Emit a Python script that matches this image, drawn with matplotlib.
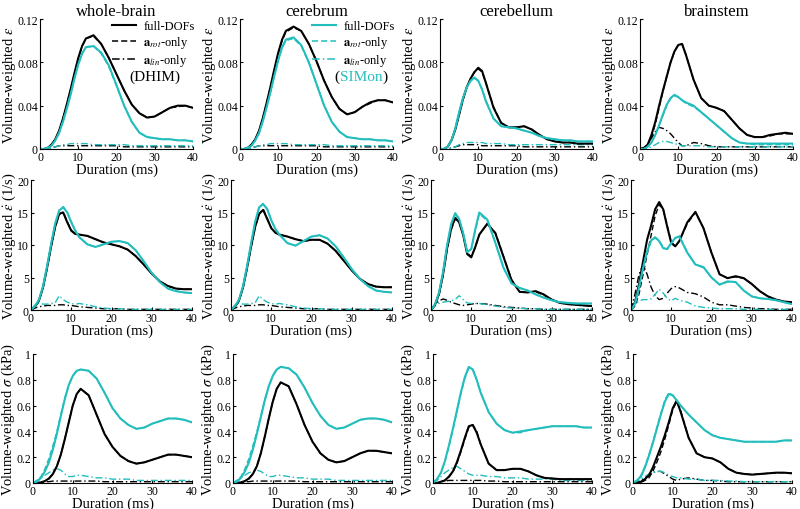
import matplotlib.pyplot as plt
from matplotlib.lines import Line2D
from matplotlib.offsetbox import TextArea, HPacker, AnchoredOffsetbox

plt.rcParams['font.family'] = ['Liberation Serif', 'DejaVu Serif']
plt.rcParams['mathtext.fontset'] = 'stix'

CYAN = '#22bdbd'

# sample times (ms): 1 ms steps up to 12 ms, 2 ms steps after
t = [0, 1, 2, 3, 4, 5, 6, 7, 8, 9, 10, 11, 12,
     14, 16, 18, 20, 22, 24, 26, 28, 30, 32, 34, 36, 38, 40]

regions = ['whole-brain', 'cerebrum', 'cerebellum', 'brainstem']

# ---- volume-weighted strain  (D = DHIM, S = SIMon)
wb_eps_D_full = [0, 0, .001, .004, .009, .017, .028, .041, .055, .070, .084, .095, .102, .105, .097, .084, .069, .054, .041, .033, .029, .030, .034, .038, .040, .040, .038]
wb_eps_D_rot = [0, 0, .001, .004, .009, .016, .028, .041, .055, .069, .083, .095, .102, .104, .097, .084, .069, .054, .041, .033, .029, .030, .034, .038, .039, .040, .038]
wb_eps_D_lin = [0, 0, 0, .001, .002, .003, .003, .003, .003, .003, .003, .003, .003, .003, .003, .003, .003, .002, .002, .002, .002, .002, .002, .002, .002, .002, .002]
wb_eps_S_full = [0, 0, .001, .003, .008, .015, .025, .037, .050, .065, .078, .088, .094, .095, .089, .077, .059, .040, .025, .015, .011, .010, .009, .009, .008, .008, .007]
wb_eps_S_rot = [0, 0, .001, .003, .008, .015, .026, .038, .051, .065, .078, .088, .094, .095, .088, .076, .058, .040, .025, .015, .011, .010, .009, .009, .008, .008, .007]
wb_eps_S_lin = [0, 0, 0, .001, .002, .003, .004, .004, .005, .005, .005, .005, .005, .004, .004, .004, .004, .004, .003, .003, .003, .003, .003, .003, .003, .003, .003]

cr_eps_D_full = [0, 0, .001, .004, .009, .017, .029, .043, .058, .074, .089, .101, .109, .113, .109, .097, .081, .063, .048, .037, .032, .034, .039, .043, .045, .045, .043]
cr_eps_D_rot = [0, 0, .001, .004, .009, .017, .029, .043, .058, .073, .088, .100, .108, .112, .109, .097, .081, .063, .048, .037, .032, .034, .039, .042, .045, .045, .043]
cr_eps_D_lin = [0, 0, 0, .001, .002, .003, .003, .003, .003, .003, .003, .003, .003, .003, .003, .003, .003, .002, .002, .002, .002, .002, .002, .002, .002, .002, .002]
cr_eps_S_full = [0, 0, .001, .003, .008, .015, .026, .039, .053, .068, .082, .094, .101, .103, .096, .080, .060, .040, .025, .016, .011, .010, .009, .009, .008, .008, .007]
cr_eps_S_rot = [0, 0, .001, .003, .008, .015, .026, .039, .053, .068, .082, .093, .100, .102, .095, .080, .060, .040, .025, .016, .011, .010, .009, .009, .008, .008, .007]
cr_eps_S_lin = [0, 0, 0, .001, .002, .003, .004, .004, .005, .005, .005, .005, .005, .004, .004, .004, .004, .004, .003, .003, .003, .003, .003, .003, .003, .003, .003]

cb_eps_D_full = [0, 0, .002, .008, .018, .032, .046, .057, .065, .071, .075, .072, .061, .038, .024, .020, .020, .021, .018, .013, .009, .007, .006, .006, .005, .005, .005]
cb_eps_D_rot = [0, 0, .002, .008, .018, .031, .045, .057, .065, .071, .074, .071, .061, .039, .024, .020, .020, .021, .018, .013, .009, .007, .006, .006, .005, .005, .005]
cb_eps_D_lin = [0, 0, 0, .001, .002, .003, .004, .004, .004, .004, .004, .003, .003, .003, .003, .003, .003, .002, .002, .002, .002, .002, .002, .002, .002, .002, .002]
cb_eps_S_full = [0, 0, .002, .008, .019, .034, .047, .057, .063, .066, .063, .055, .044, .028, .021, .020, .019, .017, .015, .012, .010, .009, .008, .008, .007, .007, .007]
cb_eps_S_rot = [0, 0, .002, .008, .019, .033, .047, .057, .063, .065, .063, .055, .045, .028, .021, .020, .019, .017, .015, .012, .010, .009, .008, .008, .007, .007, .007]
cb_eps_S_lin = [0, 0, 0, .001, .002, .004, .005, .006, .006, .006, .006, .006, .005, .005, .005, .004, .004, .004, .004, .004, .004, .004, .004, .004, .004, .004, .004]

bs_eps_D_full = [0, .001, .004, .013, .025, .040, .054, .067, .080, .090, .096, .097, .087, .064, .047, .040, .038, .035, .027, .019, .013, .011, .011, .013, .014, .015, .014]
bs_eps_D_rot = [0, .001, .003, .011, .023, .038, .053, .067, .080, .090, .096, .097, .087, .064, .047, .040, .038, .035, .027, .019, .013, .011, .011, .012, .014, .014, .014]
bs_eps_D_lin = [0, .001, .004, .010, .016, .020, .019, .017, .014, .010, .006, .003, .003, .006, .005, .003, .002, .002, .002, .002, .002, .002, .002, .002, .002, .002, .002]
bs_eps_S_full = [0, 0, .002, .006, .013, .022, .032, .041, .047, .050, .048, .045, .043, .040, .034, .028, .022, .016, .010, .006, .005, .005, .005, .005, .005, .005, .005]
bs_eps_S_rot = [0, 0, .002, .006, .013, .022, .031, .040, .047, .049, .048, .045, .042, .039, .034, .028, .022, .016, .010, .006, .005, .004, .004, .004, .004, .004, .004]
bs_eps_S_lin = [0, 0, .001, .002, .004, .006, .007, .007, .006, .005, .004, .003, .003, .003, .003, .002, .002, .002, .002, .002, .002, .002, .002, .002, .002, .002, .002]

# ---- volume-weighted strain rate (1/s)
wb_rate_D_full = [0, .5, 1.5, 3.5, 6.5, 9.8, 12.8, 14.8, 15.0, 13.5, 12.2, 11.7, 11.6, 11.4, 10.9, 10.4, 10.1, 9.8, 9.3, 8.3, 7.0, 5.6, 4.4, 3.7, 3.3, 3.2, 3.2]
wb_rate_D_rot = [0, .5, 1.4, 3.4, 6.4, 9.7, 12.7, 14.7, 15.1, 13.6, 12.3, 11.7, 11.6, 11.4, 10.9, 10.4, 10.1, 9.8, 9.3, 8.3, 7.0, 5.6, 4.4, 3.7, 3.3, 3.2, 3.2]
wb_rate_D_lin = [0, .3, .5, .6, .7, .7, .7, .8, .8, .7, .7, .6, .5, .4, .3, .2, .2, .2, .1, .1, .1, .1, .1, .1, .1, .1, .1]
wb_rate_S_full = [0, .6, 1.6, 3.7, 6.8, 10.2, 13.3, 15.3, 15.8, 15.0, 13.5, 12.2, 11.2, 10.1, 9.7, 10.1, 10.5, 10.6, 10.3, 9.2, 7.5, 5.7, 4.3, 3.3, 2.9, 2.7, 2.6]
wb_rate_S_rot = [0, .6, 1.6, 3.6, 6.7, 10.1, 13.2, 15.3, 15.9, 15.1, 13.6, 12.2, 11.2, 10.1, 9.7, 10.1, 10.5, 10.6, 10.3, 9.2, 7.5, 5.7, 4.3, 3.3, 2.9, 2.7, 2.6]
wb_rate_S_lin = [0, .8, 1.1, .9, .9, 1.0, 1.1, 2.2, 1.6, 1.2, 1.0, .9, 1.0, .8, .5, .3, .2, .2, .1, .1, .1, .1, .1, .1, .1, .1, .1]

cr_rate_D_full = [0, .5, 1.5, 3.5, 6.5, 9.8, 12.8, 14.8, 15.4, 14.0, 12.6, 11.9, 11.6, 11.3, 10.9, 10.6, 10.8, 10.8, 10.2, 9.1, 7.6, 6.1, 4.8, 4.0, 3.6, 3.5, 3.5]
cr_rate_D_rot = [0, .5, 1.4, 3.4, 6.4, 9.7, 12.7, 14.8, 15.5, 14.1, 12.6, 11.9, 11.6, 11.3, 10.9, 10.6, 10.8, 10.8, 10.2, 9.1, 7.6, 6.1, 4.8, 4.0, 3.6, 3.5, 3.5]
cr_rate_D_lin = [0, .3, .5, .6, .7, .7, .7, .8, .8, .7, .7, .6, .5, .4, .3, .2, .2, .2, .1, .1, .1, .1, .1, .1, .1, .1, .1]
cr_rate_S_full = [0, .6, 1.6, 3.7, 6.8, 10.3, 13.6, 15.8, 16.3, 15.5, 13.8, 12.5, 11.6, 10.3, 9.9, 10.6, 11.3, 11.5, 11.0, 9.8, 8.1, 6.3, 4.8, 3.7, 3.0, 2.8, 2.7]
cr_rate_S_rot = [0, .6, 1.6, 3.6, 6.7, 10.2, 13.5, 15.8, 16.4, 15.6, 13.9, 12.5, 11.6, 10.3, 9.9, 10.6, 11.3, 11.5, 11.0, 9.8, 8.1, 6.3, 4.8, 3.7, 3.0, 2.8, 2.7]
cr_rate_S_lin = [0, .8, 1.1, .9, .9, 1.0, 1.1, 2.2, 1.6, 1.2, 1.0, .9, 1.0, .8, .5, .3, .2, .2, .1, .1, .1, .1, .1, .1, .1, .1, .1]

cb_rate_D_full = [0, .8, 2.5, 5.5, 9.5, 12.5, 14.2, 13.5, 11.5, 8.6, 8.1, 9.7, 11.6, 13.3, 11.8, 8.2, 4.6, 2.8, 2.7, 2.9, 2.4, 1.6, 1.1, .9, .8, .7, .6]
cb_rate_D_rot = [0, .7, 2.3, 5.3, 9.3, 12.3, 14.0, 13.5, 11.6, 8.8, 8.2, 9.6, 11.6, 13.2, 11.9, 8.3, 4.7, 2.8, 2.7, 2.8, 2.3, 1.6, 1.1, .9, .8, .7, .6]
cb_rate_D_lin = [0, .8, 1.4, 1.7, 1.5, 1.2, 1.0, .8, .7, .8, .9, 1.0, 1.0, .9, .7, .5, .4, .3, .2, .2, .1, .1, .1, .1, .1, .1, .1]
cb_rate_S_full = [0, .9, 2.7, 5.9, 10.0, 13.2, 14.9, 14.0, 11.8, 8.9, 9.4, 12.4, 15.0, 13.9, 10.3, 6.5, 4.1, 3.4, 3.0, 2.4, 1.9, 1.5, 1.2, 1.1, 1.0, 1.0, 1.0]
cb_rate_S_rot = [0, .8, 2.6, 5.8, 9.9, 13.1, 14.8, 14.0, 11.9, 9.0, 9.3, 12.2, 14.8, 13.7, 10.4, 6.6, 4.1, 3.4, 3.0, 2.4, 1.9, 1.5, 1.2, 1.1, 1.0, 1.0, 1.0]
cb_rate_S_lin = [0, .6, 1.0, 1.2, 1.3, 1.4, 1.6, 2.2, 1.6, 1.1, 1.0, 1.0, 1.0, .8, .6, .4, .3, .3, .2, .2, .1, .1, .1, .1, .1, .1, .1]

bs_rate_D_full = [0, 1.2, 4.0, 7.5, 10.8, 13.0, 15.5, 16.6, 15.5, 12.8, 10.3, 9.8, 10.6, 13.5, 15.1, 12.6, 8.8, 5.5, 4.9, 5.2, 4.9, 4.0, 2.9, 2.1, 1.6, 1.3, 1.2]
bs_rate_D_rot = [0, .6, 2.5, 5.5, 8.5, 11.5, 14.5, 16.2, 15.5, 13.0, 10.5, 9.8, 10.6, 13.3, 15.0, 12.6, 8.8, 5.5, 4.9, 5.1, 4.9, 4.0, 2.9, 2.1, 1.6, 1.3, 1.2]
bs_rate_D_lin = [0, 2.5, 5.5, 7.0, 5.5, 3.5, 2.2, 1.6, 1.8, 2.6, 3.3, 3.6, 3.4, 2.7, 2.5, 2.0, 1.2, .8, .8, .6, .4, .3, .2, .2, .1, .1, .1]
bs_rate_S_full = [0, 1.0, 3.5, 6.5, 9.0, 10.7, 11.2, 10.6, 9.5, 9.4, 10.3, 11.1, 11.3, 8.8, 7.0, 6.6, 5.0, 3.9, 4.4, 4.3, 3.0, 2.1, 1.8, 1.7, 1.5, 1.2, .9]
bs_rate_S_rot = [0, .8, 3.2, 6.3, 8.9, 10.6, 11.1, 10.7, 9.6, 9.3, 10.2, 11.0, 11.4, 8.9, 7.0, 6.5, 5.0, 3.9, 4.3, 4.3, 3.0, 2.1, 1.8, 1.7, 1.5, 1.2, .9]
bs_rate_S_lin = [0, .8, 1.4, 1.6, 1.6, 1.7, 2.4, 3.2, 2.6, 1.8, 1.4, 1.8, 1.5, 1.2, .6, .4, .3, .2, .2, .2, .1, .1, .1, .1, .1, .1, .1]

# ---- volume-weighted stress (kPa)
wb_sig_D_full = [0, 0, .005, .015, .035, .07, .13, .22, .34, .47, .60, .69, .73, .68, .53, .38, .28, .21, .17, .15, .16, .18, .20, .22, .22, .21, .20]
wb_sig_D_rot = [0, 0, .005, .014, .033, .068, .13, .22, .34, .47, .60, .69, .73, .68, .53, .38, .28, .21, .17, .15, .16, .18, .20, .22, .22, .21, .20]
wb_sig_D_lin = [0, 0, .005, .01, .01, .015, .015, .015, .015, .015, .015, .015, .015, .015, .015, .01, .01, .01, .01, .01, .01, .01, .01, .01, .01, .01, .01]
wb_sig_S_full = [0, .01, .04, .09, .16, .26, .38, .52, .65, .76, .83, .87, .88, .87, .81, .70, .58, .50, .45, .42, .43, .46, .48, .50, .50, .49, .47]
wb_sig_S_rot = [0, .02, .05, .11, .19, .29, .40, .53, .66, .76, .83, .87, .88, .87, .81, .70, .58, .50, .45, .42, .43, .46, .48, .50, .50, .49, .47]
wb_sig_S_lin = [0, .02, .04, .06, .08, .10, .11, .10, .07, .05, .05, .06, .06, .05, .04, .04, .03, .03, .03, .02, .02, .02, .02, .02, .02, .02, .02]

cr_sig_D_full = [0, 0, .005, .015, .035, .07, .13, .23, .36, .50, .63, .73, .78, .75, .61, .45, .32, .23, .18, .16, .17, .20, .23, .25, .25, .24, .23]
cr_sig_D_rot = [0, 0, .005, .014, .033, .068, .13, .23, .36, .50, .63, .73, .78, .75, .61, .45, .32, .23, .18, .16, .17, .20, .23, .25, .25, .24, .23]
cr_sig_D_lin = [0, 0, .005, .01, .01, .015, .015, .015, .015, .015, .015, .015, .015, .015, .015, .01, .01, .01, .01, .01, .01, .01, .01, .01, .01, .01, .01]
cr_sig_S_full = [0, .01, .04, .09, .16, .26, .38, .51, .64, .75, .83, .88, .90, .89, .84, .74, .62, .52, .45, .42, .43, .46, .49, .50, .50, .49, .47]
cr_sig_S_rot = [0, .02, .05, .11, .19, .29, .40, .52, .65, .75, .83, .88, .90, .89, .84, .74, .62, .52, .45, .42, .43, .46, .49, .50, .50, .49, .47]
cr_sig_S_lin = [0, .02, .04, .06, .08, .09, .10, .09, .07, .05, .05, .06, .06, .05, .04, .04, .03, .03, .03, .02, .02, .02, .02, .02, .02, .02, .02]

cb_sig_D_full = [0, 0, .01, .02, .05, .09, .16, .25, .35, .44, .45, .39, .30, .15, .10, .10, .11, .11, .09, .06, .04, .035, .03, .03, .03, .03, .03]
cb_sig_D_rot = [0, 0, .01, .02, .045, .085, .15, .24, .34, .43, .45, .40, .30, .15, .10, .10, .11, .11, .09, .06, .04, .035, .03, .03, .03, .03, .03]
cb_sig_D_lin = [0, 0, .01, .015, .02, .02, .02, .02, .02, .02, .02, .02, .02, .015, .015, .01, .01, .01, .01, .01, .01, .01, .01, .01, .01, .01, .01]
cb_sig_S_full = [0, .03, .08, .17, .29, .42, .56, .70, .82, .90, .88, .80, .70, .55, .46, .41, .39, .40, .41, .42, .43, .44, .44, .44, .44, .43, .43]
cb_sig_S_rot = [0, .03, .08, .17, .28, .41, .55, .69, .81, .89, .88, .80, .70, .55, .46, .41, .39, .39, .41, .42, .43, .44, .44, .44, .44, .43, .43]
cb_sig_S_lin = [0, .02, .05, .08, .10, .12, .13, .11, .09, .07, .06, .06, .06, .05, .05, .04, .04, .04, .03, .03, .03, .03, .02, .02, .02, .02, .02]

bs_sig_D_full = [0, 0, .01, .03, .06, .12, .20, .28, .37, .47, .58, .64, .55, .35, .23, .20, .19, .16, .11, .08, .07, .065, .07, .075, .08, .08, .075]
bs_sig_D_rot = [0, 0, .005, .02, .04, .09, .16, .24, .34, .45, .57, .63, .56, .35, .23, .20, .19, .16, .11, .08, .07, .065, .07, .075, .08, .08, .075]
bs_sig_D_lin = [0, .005, .02, .04, .06, .08, .09, .09, .07, .05, .03, .02, .03, .04, .03, .02, .02, .015, .01, .01, .01, .01, .01, .01, .01, .01, .01]
bs_sig_S_full = [0, .02, .05, .12, .21, .31, .42, .53, .63, .69, .68, .64, .60, .53, .47, .41, .37, .35, .34, .33, .32, .32, .32, .32, .32, .33, .33]
bs_sig_S_rot = [0, .02, .06, .13, .22, .32, .43, .54, .64, .70, .68, .64, .60, .53, .47, .41, .37, .35, .34, .33, .32, .32, .32, .32, .32, .33, .33]
bs_sig_S_lin = [0, .01, .03, .05, .07, .08, .09, .09, .08, .06, .05, .04, .04, .03, .03, .02, .02, .02, .015, .015, .01, .01, .01, .01, .01, .01, .01]

eps = [
    (wb_eps_D_full, wb_eps_D_rot, wb_eps_D_lin, wb_eps_S_full, wb_eps_S_rot, wb_eps_S_lin),
    (cr_eps_D_full, cr_eps_D_rot, cr_eps_D_lin, cr_eps_S_full, cr_eps_S_rot, cr_eps_S_lin),
    (cb_eps_D_full, cb_eps_D_rot, cb_eps_D_lin, cb_eps_S_full, cb_eps_S_rot, cb_eps_S_lin),
    (bs_eps_D_full, bs_eps_D_rot, bs_eps_D_lin, bs_eps_S_full, bs_eps_S_rot, bs_eps_S_lin),
]
rate = [
    (wb_rate_D_full, wb_rate_D_rot, wb_rate_D_lin, wb_rate_S_full, wb_rate_S_rot, wb_rate_S_lin),
    (cr_rate_D_full, cr_rate_D_rot, cr_rate_D_lin, cr_rate_S_full, cr_rate_S_rot, cr_rate_S_lin),
    (cb_rate_D_full, cb_rate_D_rot, cb_rate_D_lin, cb_rate_S_full, cb_rate_S_rot, cb_rate_S_lin),
    (bs_rate_D_full, bs_rate_D_rot, bs_rate_D_lin, bs_rate_S_full, bs_rate_S_rot, bs_rate_S_lin),
]
sig = [
    (wb_sig_D_full, wb_sig_D_rot, wb_sig_D_lin, wb_sig_S_full, wb_sig_S_rot, wb_sig_S_lin),
    (cr_sig_D_full, cr_sig_D_rot, cr_sig_D_lin, cr_sig_S_full, cr_sig_S_rot, cr_sig_S_lin),
    (cb_sig_D_full, cb_sig_D_rot, cb_sig_D_lin, cb_sig_S_full, cb_sig_S_rot, cb_sig_S_lin),
    (bs_sig_D_full, bs_sig_D_rot, bs_sig_D_lin, bs_sig_S_full, bs_sig_S_rot, bs_sig_S_lin),
]

rows = [
    (eps, 0.12, [0, 0.04, 0.08, 0.12], ['0', '0.04', '0.08', '0.12'],
     r'Volume-weighted $\varepsilon$', (40, 20, 153, 130)),
    (rate, 20, [0, 5, 10, 15, 20], ['0', '5', '10', '15', '20'],
     r'Volume-weighted $\dot{\varepsilon}$ (1/s)', (31, 181, 161, 130)),
    (sig, 1, [0, 0.2, 0.4, 0.6, 0.8, 1], ['0', '0.2', '0.4', '0.6', '0.8', '1'],
     r'Volume-weighted $\sigma$ (kPa)', (33, 355, 159, 129)),
]

DASH = (0, (4, 2))
DASHDOT = (0, (5, 2, 1, 2))
W, H = 800, 510

fig = plt.figure(figsize=(8, 5.1), dpi=100)
axes = {}
for r, (data, ytop, yt, ytl, ylab, (x0, y0, w, h)) in enumerate(rows):
    for c in range(4):
        ax = fig.add_axes([(x0 + 200 * c) / W, 1 - (y0 + h) / H, w / W, h / H])
        axes[r, c] = ax
        d_full, d_rot, d_lin, s_full, s_rot, s_lin = data[c]
        ax.plot(t, d_lin, color='k', lw=1.0, ls=DASHDOT)
        ax.plot(t, s_lin, color=CYAN, lw=1.0, ls=DASHDOT)
        ax.plot(t, d_full, color='k', lw=1.5)
        ax.plot(t, d_rot, color='k', lw=1.0, ls=DASH)
        ax.plot(t, s_full, color=CYAN, lw=1.5)
        ax.plot(t, s_rot, color=CYAN, lw=1.0, ls=DASH)

        ax.set_xlim(0, 40)
        ax.set_ylim(0, ytop)
        ax.set_xticks([0, 10, 20, 30, 40])
        ax.set_yticks(yt)
        ax.set_yticklabels(ytl)
        ax.tick_params(direction='in', length=2.5, width=0.8, pad=1.5, labelsize=8.5)
        for s in ['top', 'right']:
            ax.spines[s].set_visible(False)
        for s in ['left', 'bottom']:
            ax.spines[s].set_linewidth(0.8)
        ax.set_xlabel('Duration (ms)', fontsize=10.5, labelpad=-0.5)
        ax.set_ylabel(ylab, fontsize=10.5, labelpad=-0.5)
        if r == 0:
            ax.set_title(regions[c], fontsize=12, pad=3)

# legends: DHIM in black, SIMon in cyan
labels = ['full-DOFs', r'$\mathbf{a}_{rot}$-only', r'$\mathbf{a}_{lin}$-only']
for c, col in [(0, 'k'), (1, CYAN)]:
    ax = axes[0, c]
    handles = [Line2D([], [], color=col, lw=1.5),
               Line2D([], [], color=col, lw=1.1, ls=DASH),
               Line2D([], [], color=col, lw=1.1, ls=DASHDOT)]
    ax.legend(handles, labels, loc='upper left', bbox_to_anchor=(0.47, 0.99),
              frameon=False, fontsize=9, handlelength=1.9, handletextpad=0.6,
              labelspacing=0.15, borderpad=0, borderaxespad=0)

axes[0, 0].text(0.75, 0.56, '(DHIM)', transform=axes[0, 0].transAxes,
                ha='center', va='center', fontsize=11)
simon = HPacker(children=[TextArea('(', textprops=dict(fontsize=11)),
                          TextArea('SIMon', textprops=dict(fontsize=11, color=CYAN)),
                          TextArea(')', textprops=dict(fontsize=11))],
                pad=0, sep=0, align='baseline')
axes[0, 1].add_artist(AnchoredOffsetbox(loc='center', child=simon, pad=0, borderpad=0,
                                        frameon=False, bbox_to_anchor=(0.79, 0.56),
                                        bbox_transform=axes[0, 1].transAxes))

fig.savefig('out.png', dpi=100)
